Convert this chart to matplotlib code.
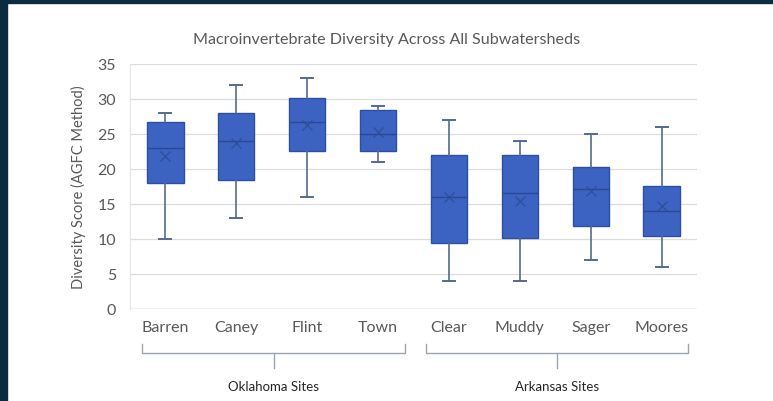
import matplotlib
matplotlib.use("Agg")
import matplotlib.pyplot as plt
from matplotlib import transforms
from matplotlib.patches import Rectangle

# ---- data ----
sites = ["Barren", "Caney", "Flint", "Town", "Clear", "Muddy", "Sager", "Moores"]
whisker_low = [10, 13, 16, 21, 4, 4, 7, 6]
q1 = [17.9, 18.4, 22.5, 22.5, 9.4, 10.1, 11.8, 10.4]
median = [22.9, 24.0, 26.6, 24.9, 16.0, 16.5, 17.1, 13.9]
mean = [21.8, 23.6, 26.2, 25.2, 15.9, 15.4, 16.8, 14.6]
q3 = [26.6, 28.0, 30.1, 28.4, 22.0, 22.0, 20.2, 17.5]
whisker_high = [28, 32, 33, 29, 27, 24, 25, 26]
groups = ["Oklahoma Sites", "Arkansas Sites"]
group_members = [[0, 1, 2, 3], [4, 5, 6, 7]]
yticks = [0, 5, 10, 15, 20, 25, 30, 35]

FONT = ["Lato", "DejaVu Sans"]
plt.rcParams["font.family"] = FONT

W, H = 773, 402
fig = plt.figure(figsize=(W / 100, H / 100), dpi=100)
fig.patch.set_facecolor("white")

# dark frame on top and left
navy = "#0b2b40"
fig.patches.append(Rectangle((0, 1 - 4 / H), 1, 4 / H, transform=fig.transFigure,
                             color=navy, zorder=-5))
fig.patches.append(Rectangle((0, 0), 7 / W, 1, transform=fig.transFigure,
                             color=navy, zorder=-5))

left, right = 130 / W, 697 / W
bottom = (H - 309.5) / H
top = (H - 64.5) / H
ax = fig.add_axes([left, bottom, right - left, top - bottom])

stats = []
for i, s in enumerate(sites):
    stats.append(dict(label=s, whislo=whisker_low[i], q1=q1[i], med=median[i],
                      q3=q3[i], whishi=whisker_high[i], mean=mean[i], fliers=[]))

box_c = "#3c62c2"
edge_c = "#2d4f9f"
whisk_c = "#56698f"
ax.bxp(stats, positions=range(len(sites)), widths=0.51, patch_artist=True,
       showmeans=True, showfliers=False,
       boxprops=dict(facecolor=box_c, edgecolor=edge_c, linewidth=1.0),
       medianprops=dict(color="#2a4894", linewidth=1.0),
       whiskerprops=dict(color=whisk_c, linewidth=1.2),
       capprops=dict(color=whisk_c, linewidth=1.4),
       capwidths=0.17,
       meanprops=dict(marker="x", markeredgecolor="#2f4f9a", markersize=7,
                      markeredgewidth=0.9))

ax.set_xlim(-0.5, len(sites) - 0.5)
ax.set_ylim(0, 35)
ax.set_yticks(yticks)
ax.set_yticklabels([str(t) for t in yticks])
ax.yaxis.grid(True, color="#dcdcdc", linewidth=0.9)
ax.set_axisbelow(True)
for sp in ["top", "right", "bottom"]:
    ax.spines[sp].set_visible(False)
ax.spines["left"].set_color("#e6e6e6")
ax.spines["left"].set_linewidth(0.8)
ax.axhline(0, color="#d4d4d4", linewidth=1.0, zorder=0)
ax.tick_params(axis="both", length=0, labelsize=11.5, labelcolor="#595959")
ax.tick_params(axis="x", pad=8)
ax.tick_params(axis="y", pad=10)
ax.set_ylabel("Diversity Score (AGFC Method)", fontsize=10.5, color="#595959",
              labelpad=8)

fig.text(0.5, (H - 40) / H, "Macroinvertebrate Diversity Across All Subwatersheds",
         ha="center", va="center", fontsize=11.6, color="#595959")

# group brackets
tr = transforms.blended_transform_factory(ax.transData, fig.transFigure)
def fy(px):
    return (H - px) / H

br_c = "#9aa4b2"
for gi, members in enumerate(group_members):
    x0 = members[0] - 0.33
    x1 = members[-1] + 0.38
    xc = (x0 + x1) / 2
    ax.plot([x0, x0, x1, x1], [fy(345), fy(354), fy(354), fy(345)], transform=tr,
            color=br_c, linewidth=1.0, clip_on=False)
    ax.plot([xc, xc], [fy(354), fy(369)], transform=tr, color=br_c,
            linewidth=1.0, clip_on=False)
    ax.text(xc, fy(387), groups[gi], transform=tr, ha="center", va="center",
            fontsize=9.5, color="#262626")

fig.savefig("out.png", dpi=100)
